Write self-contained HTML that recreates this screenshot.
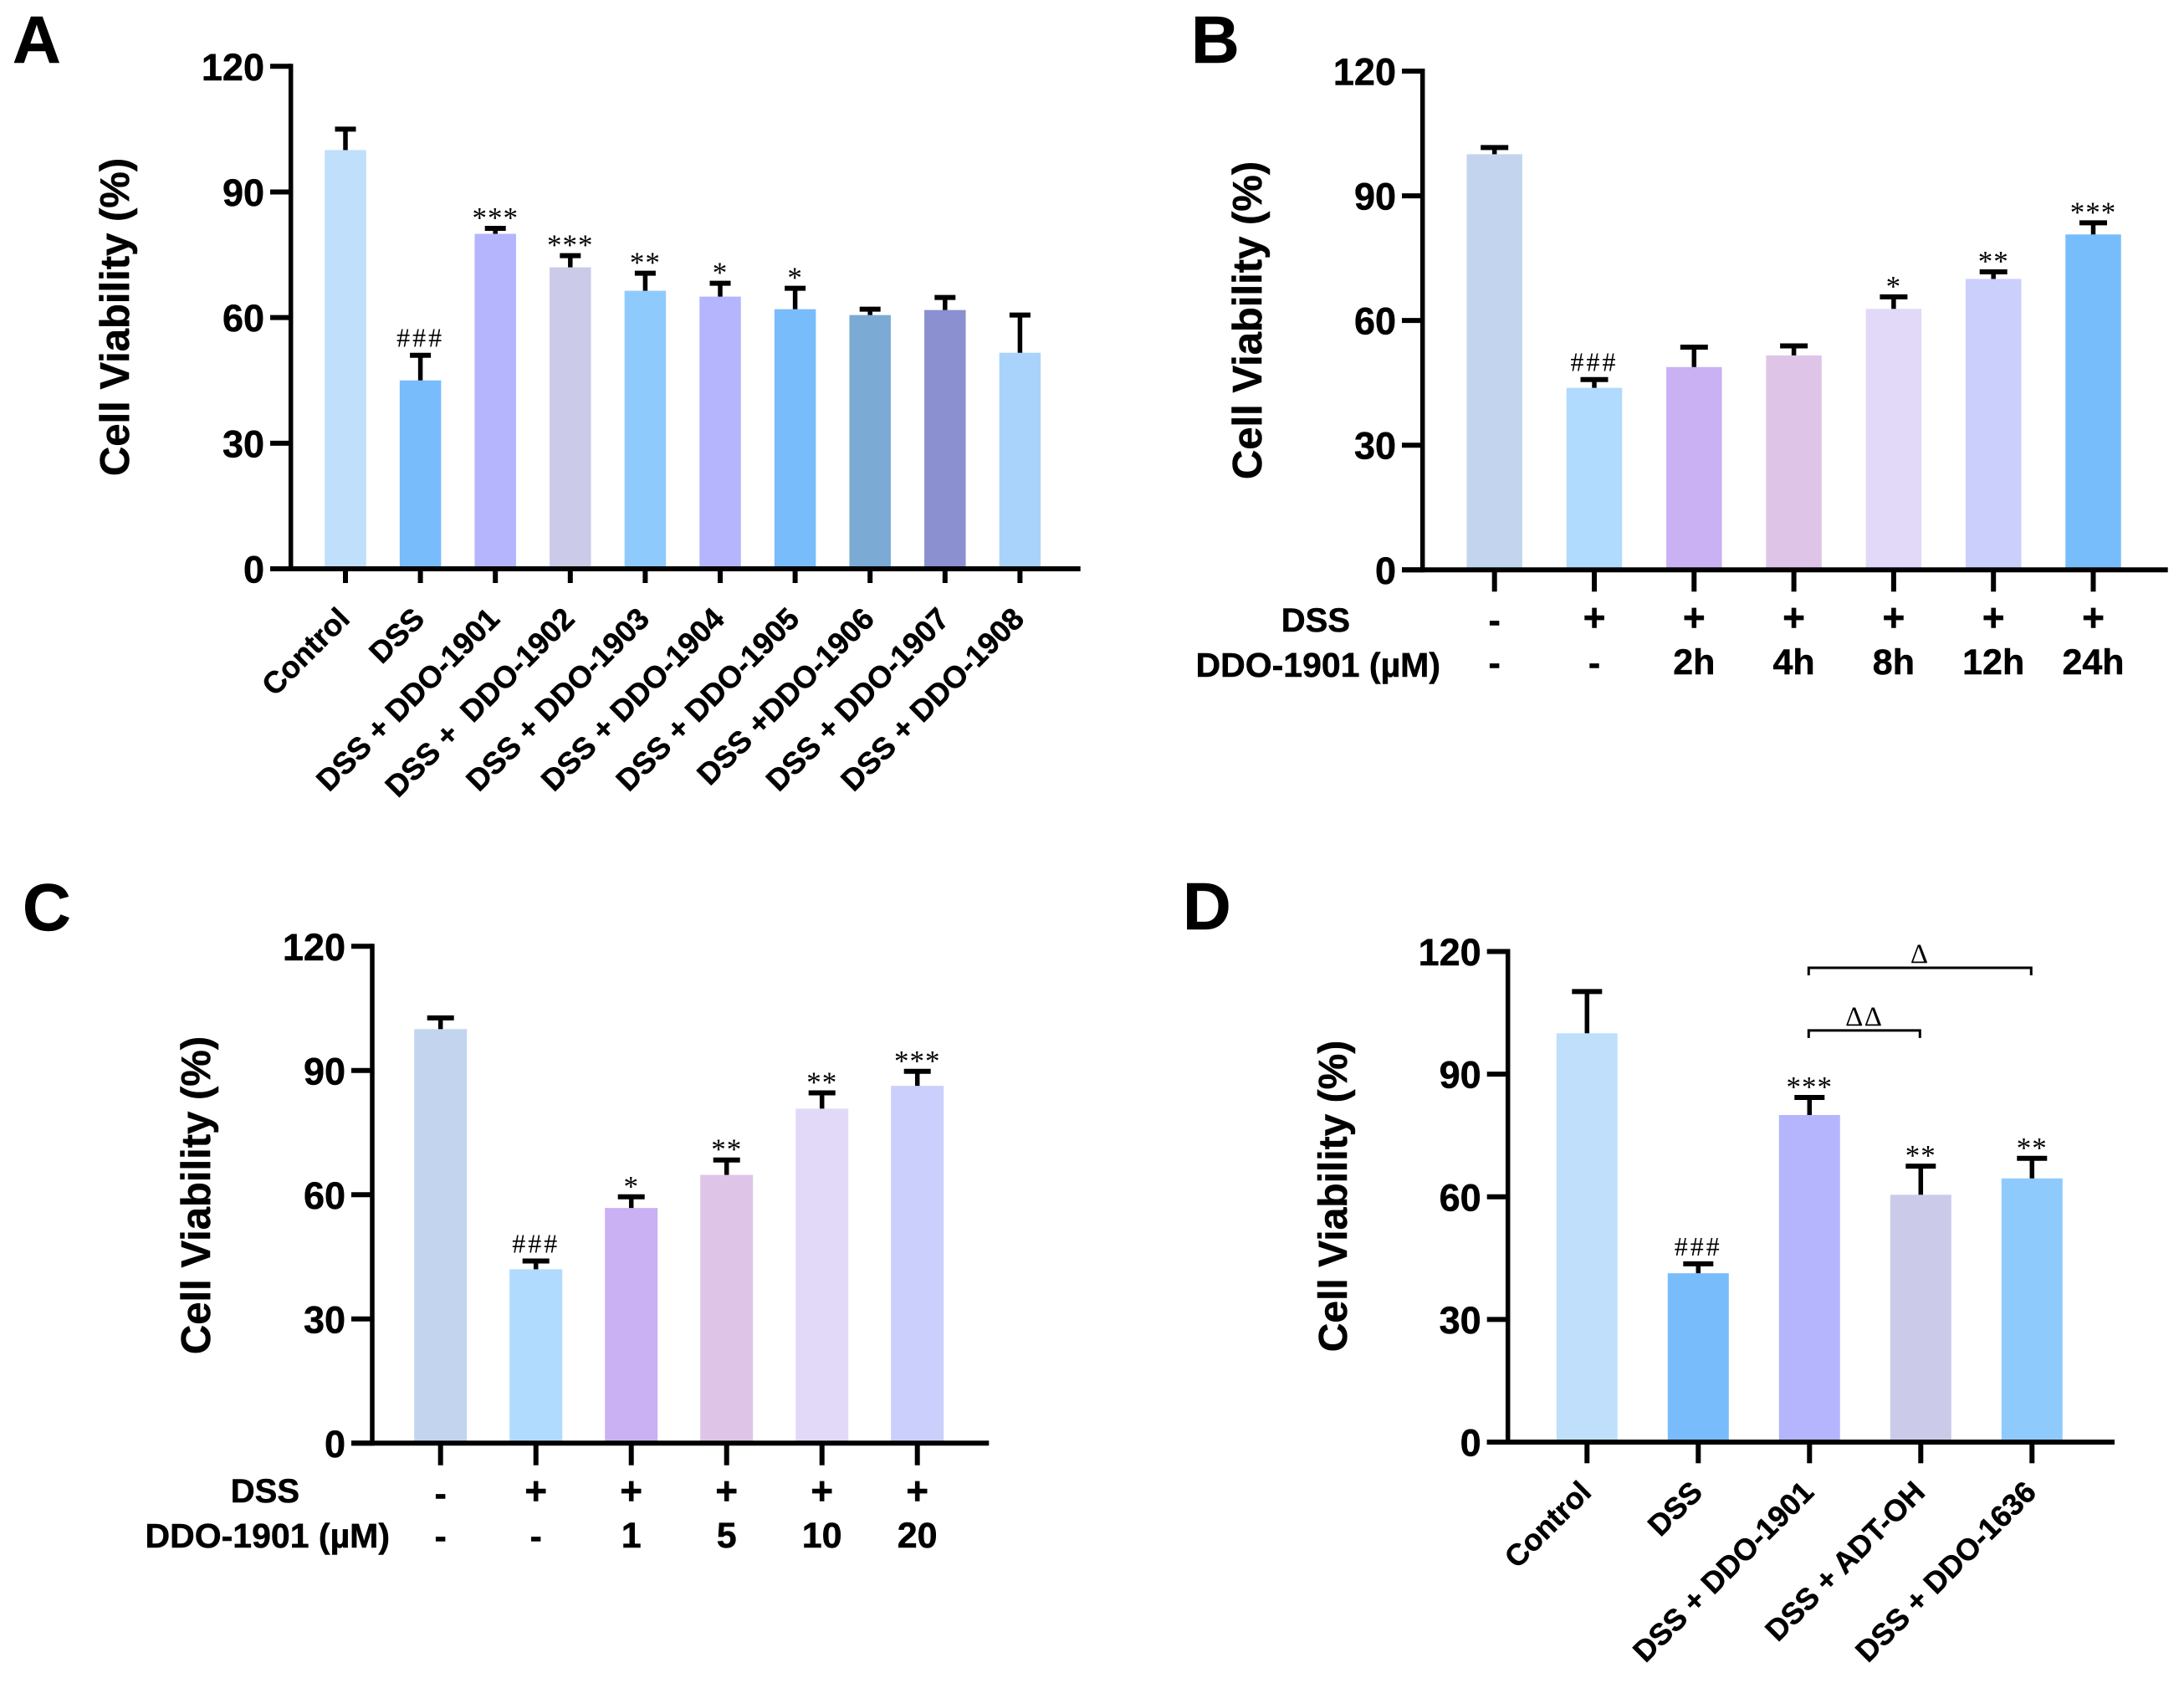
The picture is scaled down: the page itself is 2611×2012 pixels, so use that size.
<!DOCTYPE html>
<html lang="en">
<head>
<meta charset="utf-8">
<title>Cell Viability Panels</title>
<style>
html,body{margin:0;padding:0;background:#fff;}
svg{display:block;}
text{font-family:"Liberation Sans",Arial,sans-serif;font-weight:bold;fill:#000;stroke:#000;stroke-width:0.5px;}
text.sig{font-family:"Liberation Serif","Times New Roman",serif;font-weight:normal;stroke:none;}
</style>
</head>
<body>
<svg id="chart" xmlns="http://www.w3.org/2000/svg" width="2611" height="2012" viewBox="0 0 2611 2012"></svg>
<script>
const yTicks = [0, 30, 60, 90, 120];
const aCategories = ['Control','DSS','DSS + DDO-1901','DSS +\u00A0\u00A0DDO-1902','DSS + DDO-1903','DSS + DDO-1904','DSS + DDO-1905','DSS +DDO-1906','DSS + DDO-1907','DSS + DDO-1908'];
const aValues = [100,45,80,72,66.4,65,62,60.6,61.8,51.6];
const aErrors = [105,51,81.3,74.8,70.6,68.2,67,62,64.8,60.6];
const aSig = ['','###','***','***','**','*','*','','',''];
const aColors = ['#BFDFFB','#78BCFB','#B5B5FD','#CBCBE9','#8FCAFD','#B5B5FD','#78BCFB','#7BABD5','#8A90D0','#A9D3FB'];
const bValues = [100,43.8,48.8,51.6,62.8,70,80.7];
const bErrors = [101.6,45.8,53.6,53.9,65.7,71.7,83.5];
const bSig = ['','###','','','*','**','***'];
const bColors = ['#C3D5EE','#B0DAFE','#C9B1F3','#DEC5E8','#E2D8F8','#CACFFC','#78BDFB'];
const bRowDss = ['-','+','+','+','+','+','+'];
const bRowDdo = ['-','-','2h','4h','8h','12h','24h'];
const cValues = [100,42,56.8,64.8,80.8,86.3];
const cErrors = [102.7,44,59.5,68.4,84.6,89.8];
const cSig = ['','###','*','**','**','***'];
const cColors = ['#C3D5EE','#B0DAFE','#C9B1F3','#DEC5E8','#E2D8F8','#CACFFC'];
const cRowDss = ['-','+','+','+','+','+'];
const cRowDdo = ['-','-','1','5','10','20'];
const dCategories = ['Control','DSS','DSS + DDO-1901','DSS + ADT-OH','DSS + DDO-1636'];
const dValues = [100,41.3,80,60.5,64.5];
const dErrors = [110.2,43.6,84.3,67.5,69.4];
const dSig = ['','###','***','**','**'];
const dColors = ['#BFDFFB','#78BCFB','#B5B5FD','#CBCBE9','#8FCAFD'];

const NS = 'http://www.w3.org/2000/svg';
const svg = document.getElementById('chart');

function make(parent, tag, attrs, content) {
  const node = document.createElementNS(NS, tag);
  for (const key in attrs) node.setAttribute(key, attrs[key]);
  if (content !== undefined) node.textContent = content;
  parent.appendChild(node);
  return node;
}

function drawPanel(p) {
  const g = make(svg, 'g', {});
  
  
  const yPos = v => p.y0 + (p.y120 - p.y0) * v / 120;
  const xPos = i => p.x0 + p.step * i;

  const letter = make(g, 'text', {x: p.letterX, y: p.letterY, 'font-size': 80}, p.id);
  
  

  const title = make(g, 'text', {
    transform: 'translate(' + p.titleX + ',' + p.titleY + ') rotate(-90)',
    'text-anchor': 'middle', 'font-size': p.titleSize
  }, 'Cell Viability (%)');
  
  

  p.values.forEach((v, i) => {
    const cx = xPos(i);
    const top = yPos(v);
    const errTop = yPos(p.errors[i]);
    const bar = make(g, 'rect', {x: cx - p.barW / 2, y: top, width: p.barW, height: p.y0 - top, fill: p.colors[i]});
    
    
    const stem = make(g, 'line', {x1: cx, x2: cx, y1: top, y2: errTop, stroke: '#000', 'stroke-width': 5.5});
    
    
    const cap = make(g, 'line', {x1: cx - p.capW / 2, x2: cx + p.capW / 2, y1: errTop, y2: errTop, stroke: '#000', 'stroke-width': 6});
    
    
    const s = p.sig[i];
    if (s) {
      const isHash = s.charAt(0) === '#';
      const sig = make(g, 'text', {
        class: 'sig', x: cx, y: errTop - (isHash ? 10 : 1), 'text-anchor': 'middle',
        'font-size': isHash ? 32 : 35, 'letter-spacing': isHash ? 3 : 1
      }, s);
      
      
    }
    const tick = make(g, 'line', {x1: cx, x2: cx, y1: p.y0, y2: p.tickBottom, stroke: '#000', 'stroke-width': 6});
    
    
    if (p.categories) {
      const lab = make(g, 'text', {
        transform: 'translate(' + (cx + 7) + ',' + (p.y0 + 62) + ') rotate(-45)',
        'text-anchor': 'end', 'font-size': p.catSize
      }, p.categories[i]);
      
      
    }
    if (p.rowDss) {
      const plus = p.rowDss[i] === '+';
      const r1 = make(g, 'text', {x: cx, y: p.row1Y + (plus ? -1 : 1), 'text-anchor': 'middle', 'font-size': plus ? 46 : 43}, p.rowDss[i]);
      
      
      const dash = p.rowDdo[i] === '-';
      const r2 = make(g, 'text', {x: cx, y: p.row2Y + (dash ? 1 : 0), 'text-anchor': 'middle', 'font-size': 43}, p.rowDdo[i]);
      
      
    }
  });

  yTicks.forEach(t => {
    const y = yPos(t);
    const tl = make(g, 'line', {x1: p.axisLeft, x2: p.axisX, y1: y, y2: y, stroke: '#000', 'stroke-width': 6});
    
    
    const lab = make(g, 'text', {x: p.axisLeft - 7, y: y + 16.5, 'text-anchor': 'end', 'font-size': 45}, String(t));
    
    
  });

  const yAxis = make(g, 'line', {x1: p.axisX, x2: p.axisX, y1: p.y120 - 3, y2: p.y0 + 3, stroke: '#000', 'stroke-width': 5.5});
  
  
  const xAxis = make(g, 'line', {x1: p.axisLeft, x2: p.axisRight, y1: p.y0, y2: p.y0, stroke: '#000', 'stroke-width': 6});
  
  

  if (p.rowDss) {
    const h1 = make(g, 'text', {x: p.rowLabelEnd1, y: p.rowLabel1Y, 'text-anchor': 'end', 'font-size': 40}, 'DSS');
    
    
    const h2 = make(g, 'text', {x: p.rowLabelEnd2, y: p.rowLabel2Y, 'text-anchor': 'end', 'font-size': 41}, 'DDO-1901 (\u00B5M)');
    
    
  }
  return {g, xPos, yPos};
}

drawPanel({id:'A', letterX:15, letterY:75, titleX:154, titleY:379, titleSize:49,
  x0:413, step:89.6, barW:49.5, capW:25, axisX:347.7, axisLeft:323, axisRight:1291.7, y0:680, y120:79.3, tickBottom:697,
  catSize:36.5, values:aValues, errors:aErrors, sig:aSig, colors:aColors, categories:aCategories});

drawPanel({id:'B', letterX:1424, letterY:75, titleX:1508, titleY:383, titleSize:49,
  x0:1786.7, step:119.3, barW:66.5, capW:33, axisX:1700.7, axisLeft:1676, axisRight:2591.7, y0:681.3, y120:85, tickBottom:707.3,
  values:bValues, errors:bErrors, sig:bSig, colors:bColors, rowDss:bRowDss, rowDdo:bRowDdo,
  row1Y:755, row2Y:806, rowLabel1Y:755, rowLabel2Y:809, rowLabelEnd1:1614, rowLabelEnd2:1722});

drawPanel({id:'C', letterX:27, letterY:1112, titleX:251, titleY:1429, titleSize:49,
  x0:526.7, step:114, barW:63, capW:32, axisX:445, axisLeft:420, axisRight:1182.3, y0:1725.3, y120:1131.3, tickBottom:1751.7,
  values:cValues, errors:cErrors, sig:cSig, colors:cColors, rowDss:cRowDss, rowDdo:cRowDdo,
  row1Y:1799, row2Y:1850, rowLabel1Y:1796, rowLabel2Y:1850, rowLabelEnd1:358, rowLabelEnd2:466});

const panelD = drawPanel({id:'D', letterX:1414, letterY:1111, titleX:1610, titleY:1430, titleSize:48,
  x0:1897.3, step:133, barW:73, capW:36, axisX:1802.7, axisLeft:1777.7, axisRight:2528, y0:1724, y120:1137.5, tickBottom:1749.3,
  catSize:36, values:dValues, errors:dErrors, sig:dSig, colors:dColors, categories:dCategories});

function drawBracket(fromIdx, toIdx, level, label) {
  const x1 = panelD.xPos(fromIdx) - 1;
  const x2 = panelD.xPos(toIdx) - 1;
  const y = panelD.yPos(level);
  const br = make(panelD.g, 'path', {d: 'M' + x1 + ' ' + (y + 9) + 'V' + y + 'H' + x2 + 'V' + (y + 9), fill: 'none', stroke: '#000', 'stroke-width': 3});
  
  
  const t = make(panelD.g, 'text', {class: 'sig', x: (x1 + x2) / 2, y: y - 6, 'text-anchor': 'middle', 'font-size': 33, 'letter-spacing': 1.5}, label);
  
  
}
drawBracket(2, 4, 116, '\u0394');
drawBracket(2, 3, 100.7, '\u0394\u0394');
</script>
</body>
</html>
